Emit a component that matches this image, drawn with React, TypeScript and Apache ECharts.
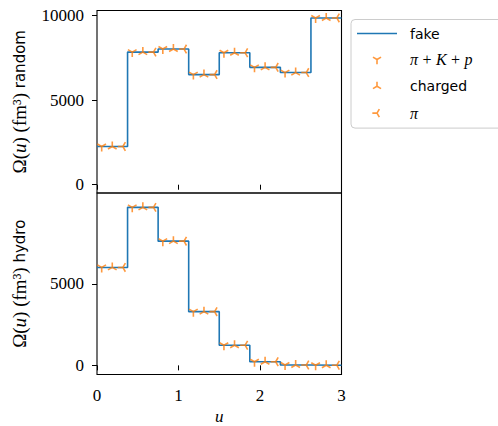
import React, { useEffect, useRef } from 'react';
import * as echarts from 'echarts';

// bin edges along u
const binEdges = [0, 0.375, 0.75, 1.125, 1.5, 1.875, 2.25, 2.625, 3];
// Omega(u) (fm^3), random initial conditions
const randomFake = [2260, 7840, 8020, 6510, 7800, 6940, 6630, 9860];
const randomPKP = [2260, 7840, 8020, 6510, 7800, 6940, 6630, 9860];
const randomCharged = [2260, 7840, 8020, 6510, 7800, 6940, 6630, 9860];
const randomPi = [2260, 7840, 8020, 6510, 7800, 6940, 6630, 9860];
// Omega(u) (fm^3), hydro
const hydroFake = [6000, 9680, 7610, 3290, 1235, 220, 20, 10];
const hydroPKP = [6000, 9680, 7610, 3290, 1235, 220, 20, 10];
const hydroCharged = [6000, 9680, 7610, 3290, 1235, 220, 20, 10];
const hydroPi = [6000, 9680, 7610, 3290, 1235, 220, 20, 10];
// marker placement inside each bin (u offset from bin centre) per species
const speciesOffsets = [-0.13, 0, 0.13];
const xTicks = [0, 1, 2, 3];
const yTicks = [0, 5000, 10000];
const yTicksHydro = [0, 5000];

const BLUE = '#1f77b4';
const ORANGE = '#ff7f0e';
const SERIF = 'Liberation Serif';
const SANS = 'DejaVu Sans';

// tri markers (padded square bbox so the centre stays at the data point)
const PAD = 'M-1.5,-1.5 M1.5,1.5 ';
const TRI_DOWN = 'path://' + PAD + 'M0,0 L0,1 M0,0 L-0.866,-0.5 M0,0 L0.866,-0.5';
const TRI_UP = 'path://' + PAD + 'M0,0 L0,-1 M0,0 L-0.866,0.5 M0,0 L0.866,0.5';
const TRI_LEFT = 'path://' + PAD + 'M0,0 L-1,0 M0,0 L0.5,-0.866 M0,0 L0.5,0.866';
const LINE_ICON = 'path://M0,0 H40 V1.5 H0 Z';

function stairs(vals: number[]) {
  return binEdges.map((e, i) => [e, vals[Math.min(i, vals.length - 1)]]);
}
function centres(vals: number[], off: number) {
  return vals.map((v, i) => [(binEdges[i] + binEdges[i + 1]) / 2 + off, v]);
}

export default function App() {
  const ref = useRef<HTMLDivElement>(null);
  useEffect(() => {
    document.body.style.margin = '0';
    const chart = echarts.init(ref.current!, undefined, { renderer: 'svg' });
    const mStyle = { color: ORANGE, borderColor: ORANGE, borderWidth: 1.6 };
    const markerSeries = (name: string, symbol: string, data: number[][], idx: number) => ({
      name,
      type: 'scatter',
      xAxisIndex: idx,
      yAxisIndex: idx,
      symbol,
      symbolSize: 15,
      data,
      itemStyle: mStyle,
      z: 3,
    });
    const lineSeries = (data: number[][], idx: number) => ({
      name: 'fake',
      type: 'line',
      step: 'end',
      xAxisIndex: idx,
      yAxisIndex: idx,
      symbol: 'none',
      showSymbol: false,
      data,
      lineStyle: { color: BLUE, width: 1.6 },
      itemStyle: { color: BLUE },
      z: 2,
    });
    const tickLabel = { fontFamily: SERIF, fontSize: 17, color: '#000', formatter: (v: number) => String(v) };
    const nameRich = {
      s: { fontFamily: SERIF, fontSize: 19, color: '#000' },
      i: { fontFamily: SERIF, fontSize: 19, fontStyle: 'italic', color: '#000' },
      t: { fontFamily: SANS, fontSize: 15, color: '#000' },
    };
    const xAxisBase = (idx: number, labels: boolean) => ({
      type: 'value',
      gridIndex: idx,
      min: 0,
      max: 3,
      interval: 1,
      axisLine: { show: false },
      axisTick: { show: true, inside: false, length: 5, lineStyle: { color: '#000', width: 1 }, customValues: xTicks },
      axisLabel: { show: labels, ...tickLabel, margin: 12, customValues: xTicks },
      splitLine: { show: false },
    });
    const yAxisBase = (idx: number, min: number, max: number, ticks: number[], label: string) => ({
      type: 'value',
      gridIndex: idx,
      min,
      max,
      axisLine: { show: false },
      axisTick: { show: true, inside: false, length: 5, lineStyle: { color: '#000', width: 1 }, customValues: ticks },
      axisLabel: { ...tickLabel, margin: 13, customValues: ticks },
      splitLine: { show: false },
      name: '{s|Ω(}{i|u}{s|) (fm³) }{t|' + label + '}',
      nameLocation: 'middle',
      nameRotate: 90,
      nameGap: 68,
      nameTextStyle: { rich: nameRich },
    });
    chart.setOption({
      animation: false,
      backgroundColor: '#fff',
      grid: [
        { left: 97, top: 10.5, width: 244.5, height: 182.5, show: true, borderColor: '#000', borderWidth: 1.1, backgroundColor: 'transparent', outerBoundsMode: 'none', containLabel: false },
        { left: 97, top: 193, width: 244.5, height: 181.5, show: true, borderColor: '#000', borderWidth: 1.1, backgroundColor: 'transparent', outerBoundsMode: 'none', containLabel: false },
      ],
      xAxis: [
        xAxisBase(0, false),
        {
          ...xAxisBase(1, true),
          name: 'u',
          nameLocation: 'middle',
          nameGap: 33,
          nameTextStyle: { fontFamily: SERIF, fontSize: 17, fontStyle: 'italic', color: '#000' },
        },
      ],
      yAxis: [
        yAxisBase(0, -490, 10300, yTicks, 'random'),
        yAxisBase(1, -560, 10560, yTicksHydro, 'hydro'),
      ],
      legend: {
        orient: 'vertical',
        left: 351,
        top: 19.5,
        itemWidth: 40,
        itemHeight: 14,
        itemGap: 11,
        padding: [7, 30, 7, 6],
        backgroundColor: 'rgba(255,255,255,0.8)',
        borderColor: '#cccccc',
        borderWidth: 1,
        borderRadius: 4,
        textStyle: {
          fontFamily: SANS,
          fontSize: 14,
          color: '#000',
          padding: [0, 0, 0, 8],
          rich: {
            m: { fontFamily: SERIF, fontSize: 16, fontStyle: 'italic', color: '#000' },
            r: { fontFamily: SERIF, fontSize: 16, color: '#000' },
          },
        },
        formatter: (name: string) =>
          name === 'π + K + p' ? '{m|π} {r|+} {m|K} {r|+} {m|p}' : name === 'π' ? '{m|π}' : name,
        data: [
          { name: 'fake', icon: LINE_ICON, itemStyle: { color: BLUE, borderWidth: 0 } },
          { name: 'π + K + p', icon: TRI_DOWN, itemStyle: mStyle },
          { name: 'charged', icon: TRI_UP, itemStyle: mStyle },
          { name: 'π', icon: TRI_LEFT, itemStyle: mStyle },
        ],
      },
      series: [
        lineSeries(stairs(randomFake), 0),
        markerSeries('π + K + p', TRI_DOWN, centres(randomPKP, speciesOffsets[0]), 0),
        markerSeries('charged', TRI_UP, centres(randomCharged, speciesOffsets[1]), 0),
        markerSeries('π', TRI_LEFT, centres(randomPi, speciesOffsets[2]), 0),
        lineSeries(stairs(hydroFake), 1),
        markerSeries('π + K + p', TRI_DOWN, centres(hydroPKP, speciesOffsets[0]), 1),
        markerSeries('charged', TRI_UP, centres(hydroCharged, speciesOffsets[1]), 1),
        markerSeries('π', TRI_LEFT, centres(hydroPi, speciesOffsets[2]), 1),
      ],
    });
    return () => chart.dispose();
  }, []);
  return <div ref={ref} style={{ width: 498, height: 426 }} />;
}
